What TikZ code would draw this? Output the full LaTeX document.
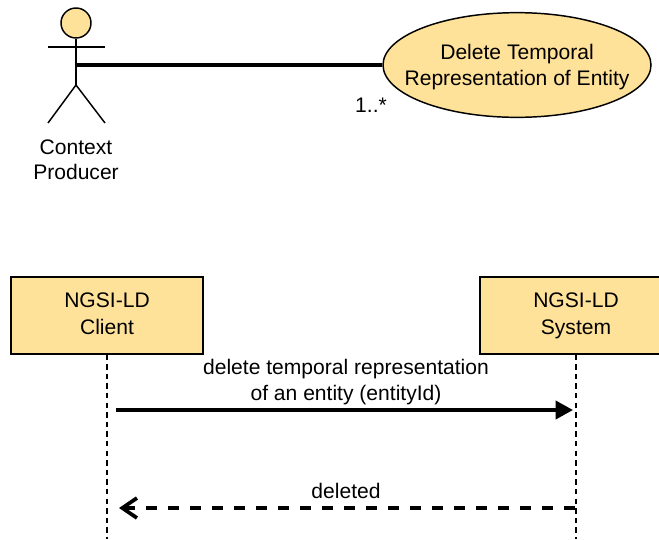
\documentclass[tikz,border=0pt]{standalone}
\usepackage{fontspec}
\setmainfont{Liberation Sans}
\usetikzlibrary{arrows.meta}
\usetikzlibrary{shapes.geometric}
\definecolor{boxfill}{HTML}{FFE299}
\tikzset{
  label_txt/.style = {align=center, inner sep=0pt, text centered, text=black,
    font=\fontsize{15.8pt}{20pt}\selectfont},
  actor_head/.style = {circle, draw=black, fill=boxfill, line width=1.1pt,
    minimum size=22.5pt, inner sep=0pt},
  actor_line/.style = {draw=black, line width=1.1pt},
  use_case/.style = {label_txt, ellipse, draw=black, fill=boxfill, line width=1.1pt,
    inner xsep=-22pt, minimum width=201pt, minimum height=78.5pt},% use case bubble
  party_box/.style = {label_txt, rectangle, draw=black, fill=boxfill, line width=1.1pt,
    minimum width=144pt, minimum height=57.5pt},% box on top of a lifeline
  assoc/.style = {draw=black, line width=2.9pt},
  lifeline/.style = {draw=black, line width=0.9pt, dash pattern=on 4pt off 3.2pt},
  call_msg/.style = {draw=black, line width=2.8pt,
    -{Triangle[length=13pt,width=13.5pt]}},
  reply_msg/.style = {draw=black, line width=2.8pt, dash pattern=on 8.5pt off 8pt,
    -{Straight Barb[length=11pt,width=15pt,line width=2.8pt]}}
}

\begin{document}
\begin{tikzpicture}[x=0.75pt,y=-0.75pt]
\useasboundingbox (0,0) rectangle (659,539);
\clip (0,0) rectangle (659,539);

% use case part
\node [actor_head] (head) at (76,23) {};
\coordinate (arm_l) at (48,47);
\coordinate (arm_r) at (105,47);
\coordinate (waist) at (76,65);
\coordinate (hip) at (76,85);
\coordinate (foot_l) at (48,123);
\coordinate (foot_r) at (105,123);
\draw [actor_line] (head.south) -- (hip);
\draw [actor_line] (arm_l) -- (arm_r);
\draw [actor_line] (foot_l) -- (hip) -- (foot_r);
\node [label_txt, font=\fontsize{15.8pt}{18.5pt}\selectfont] (producer) at (76,160) {Context\\Producer};
\node [use_case] (usecase) at (517,65) {\rule{0pt}{14.5pt}Delete Temporal\\Representation of Entity};
\draw [assoc] (waist) -- (usecase.west);
\node [label_txt] (mult) at (371,105) {1..*};

% sequence part
\node [party_box] (client) at (107,315.5) {NGSI-LD\\Client\vphantom{y}};
\node [party_box] (system) at (576,315.5) {NGSI-LD\\System};
\coordinate (client_end) at (107,539);
\coordinate (system_end) at (576,539);
\draw [lifeline] (client.south) -- (client_end);
\draw [lifeline] (system.south) -- (system_end);

\coordinate (call_from) at (116,410);
\coordinate (call_to) at (573,410);
\coordinate (reply_from) at (575,508);
\coordinate (reply_to) at (119,508);
\draw [call_msg] (call_from) -- (call_to);
\draw [reply_msg] (reply_from) -- (reply_to);
\node [label_txt] (call_txt) at (346,382) {delete temporal representation\\of an entity (entityId)};
\node [label_txt] (reply_txt) at (346,491) {deleted};

\end{tikzpicture}
\end{document}
